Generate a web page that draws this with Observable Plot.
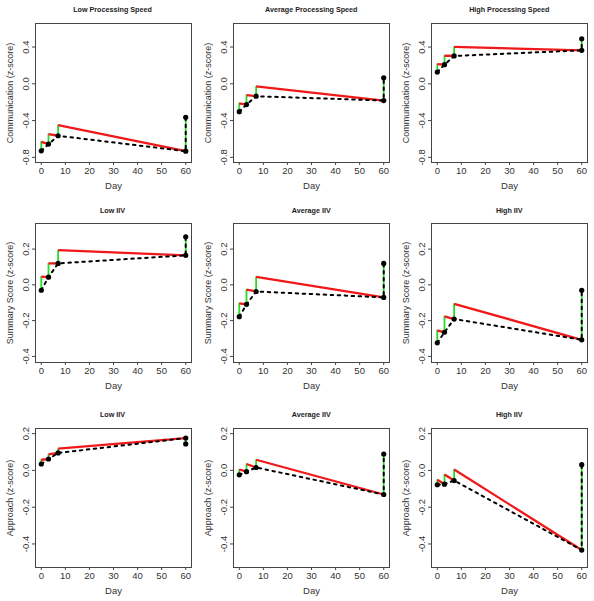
<!DOCTYPE html>
<html><head><meta charset="utf-8">
<script src="https://cdn.jsdelivr.net/npm/d3@7"></script>
<script src="https://cdn.jsdelivr.net/npm/@observablehq/plot@0.6"></script>
<style>
body{margin:0;background:#fff;}
#wrap{position:relative;width:594px;height:601px;overflow:hidden;font-family:"Liberation Sans",Arial,sans-serif;}
.panel{position:absolute;width:198px;height:200px;}
.title{position:absolute;left:35px;width:156px;text-align:center;font-weight:bold;font-size:7.2px;line-height:8px;top:6.5px;color:#222;}
.panel svg{position:absolute;left:0;top:0;overflow:visible;}
</style></head>
<body><div id="wrap"></div>
<script>
// Session days
const days = [0, 3, 7, 60];
const xTicks = [0, 10, 20, 30, 40, 50, 60];

// Panel titles and y labels
const titles = ["Low Processing Speed", "Average Processing Speed", "High Processing Speed",
  "Low IIV", "Average IIV", "High IIV",
  "Low IIV", "Average IIV", "High IIV"];
const yLabels = ["Communication (z-score)", "Summary Score (z-score)", "Approach (z-score)"];
const yTicksRow1 = [-0.8, -0.4, 0.0, 0.4];
const yTicksRow2 = [-0.4, -0.2, 0.0, 0.2];
const yTicksRow3 = [-0.4, -0.2, 0.0, 0.2];
const yDomainRow1 = [-0.856, 0.656];
const yDomainRow2 = [-0.434, 0.343];
const yDomainRow3 = [-0.528, 0.228];

// Values before each session (black points) and after each session (top of green line)
const commLowPre  = [-0.729, -0.656, -0.565, -0.733];
const commLowPost = [-0.631, -0.547, -0.449, -0.365];
const commAvgPre  = [-0.303, -0.226, -0.135, -0.182];
const commAvgPost = [-0.212, -0.124, -0.029, 0.066];
const commHighPre  = [0.128, 0.208, 0.303, 0.364];
const commHighPost = [0.213, 0.305, 0.401, 0.489];

const sumLowPre  = [-0.030, 0.043, 0.120, 0.165];
const sumLowPost = [0.046, 0.120, 0.194, 0.269];
const sumAvgPre  = [-0.178, -0.109, -0.037, -0.070];
const sumAvgPost = [-0.104, -0.026, 0.044, 0.120];
const sumHighPre  = [-0.324, -0.265, -0.191, -0.307];
const sumHighPost = [-0.254, -0.176, -0.106, -0.030];

const appLowPre  = [0.035, 0.062, 0.095, 0.176];
const appLowPost = [0.058, 0.087, 0.118, 0.144];
const appAvgPre  = [-0.024, -0.007, 0.016, -0.131];
const appAvgPost = [0.005, 0.035, 0.058, 0.089];
const appHighPre  = [-0.078, -0.075, -0.055, -0.433];
const appHighPost = [-0.051, -0.022, 0.005, 0.031];

const panels = [
  [commLowPre, commLowPost], [commAvgPre, commAvgPost], [commHighPre, commHighPost],
  [sumLowPre, sumLowPost], [sumAvgPre, sumAvgPost], [sumHighPre, sumHighPost],
  [appLowPre, appLowPost], [appAvgPre, appAvgPost], [appHighPre, appHighPost]
];
const rowTicks = [yTicksRow1, yTicksRow2, yTicksRow3];
const rowDomains = [yDomainRow1, yDomainRow2, yDomainRow3];

const colLeft = [-0.5, 198.3, 396.3];
const rowTop = [-0.3, 200.3, 404.7];
const fmt = v => v.toFixed(1);
const wrap = document.getElementById("wrap");

panels.forEach(([pre, post], k) => {
  const row = Math.floor(k / 3), col = k % 3;
  const idx = d3.range(days.length);
  const red = d3.range(days.length - 1).map(i => ({x1: days[i], y1: post[i], x2: days[i + 1], y2: pre[i + 1]}));
  const green = idx.map(i => ({x: days[i], y1: pre[i], y2: post[i]}));
  const dashed = idx.map(i => ({x: days[i], y: pre[i]})).concat([{x: days[3], y: post[3]}]);
  const dots = dashed;
  const svg = Plot.plot({
    width: 198, height: 200,
    marginTop: 23, marginBottom: 38, marginLeft: 35, marginRight: 7,
    x: {domain: [-2.4, 62.4]},
    y: {domain: rowDomains[row]},
    style: {fontFamily: '"Liberation Sans", Arial, sans-serif', fontSize: "9.5px", color: "#333", background: "transparent", overflow: "visible"},
    marks: [
      Plot.ruleX(green, {x: "x", y1: "y1", y2: "y2", stroke: "#22dd22", strokeWidth: 1.8}),
      Plot.link(red, {x1: "x1", y1: "y1", x2: "x2", y2: "y2", stroke: "#f01818", strokeWidth: 2.3}),
      Plot.line(dashed, {x: "x", y: "y", stroke: "#000", strokeWidth: 2, strokeDasharray: "2.5,4.5"}),
      Plot.dot(dots, {x: "x", y: "y", r: 2.6, fill: "#000", stroke: "none"}),
      Plot.frame({stroke: "#444", strokeWidth: 1}),
      Plot.axisX({ticks: xTicks, tickSize: 3, tickPadding: 2, label: null, fontSize: "9.5px", stroke: "#444", fill: "#333"}),
      Plot.axisY({ticks: rowTicks[row], tickSize: 3, tickFormat: () => "", label: null, stroke: "#444"}),
      Plot.text(rowTicks[row], {y: d => d, text: fmt, frameAnchor: "left", textAnchor: "middle", lineAnchor: "middle", rotate: -90, dx: -10, fontSize: 9.5, fill: "#333"}),
      Plot.text([yLabels[row]], {text: d => d, frameAnchor: "left", textAnchor: "middle", lineAnchor: "middle", rotate: -90, dx: -25, fontSize: 9, fill: "#333"}),
      Plot.text(["Day"], {text: d => d, frameAnchor: "bottom", lineAnchor: "middle", dy: 23.5, fontSize: 9.5, fill: "#333"})
    ]
  });
  const div = document.createElement("div");
  div.className = "panel";
  div.style.left = colLeft[col] + "px";
  div.style.top = rowTop[row] + "px";
  div.appendChild(svg);
  const t = document.createElement("div");
  t.className = "title";
  t.textContent = titles[k];
  div.appendChild(t);
  wrap.appendChild(div);
});
</script></body></html>
